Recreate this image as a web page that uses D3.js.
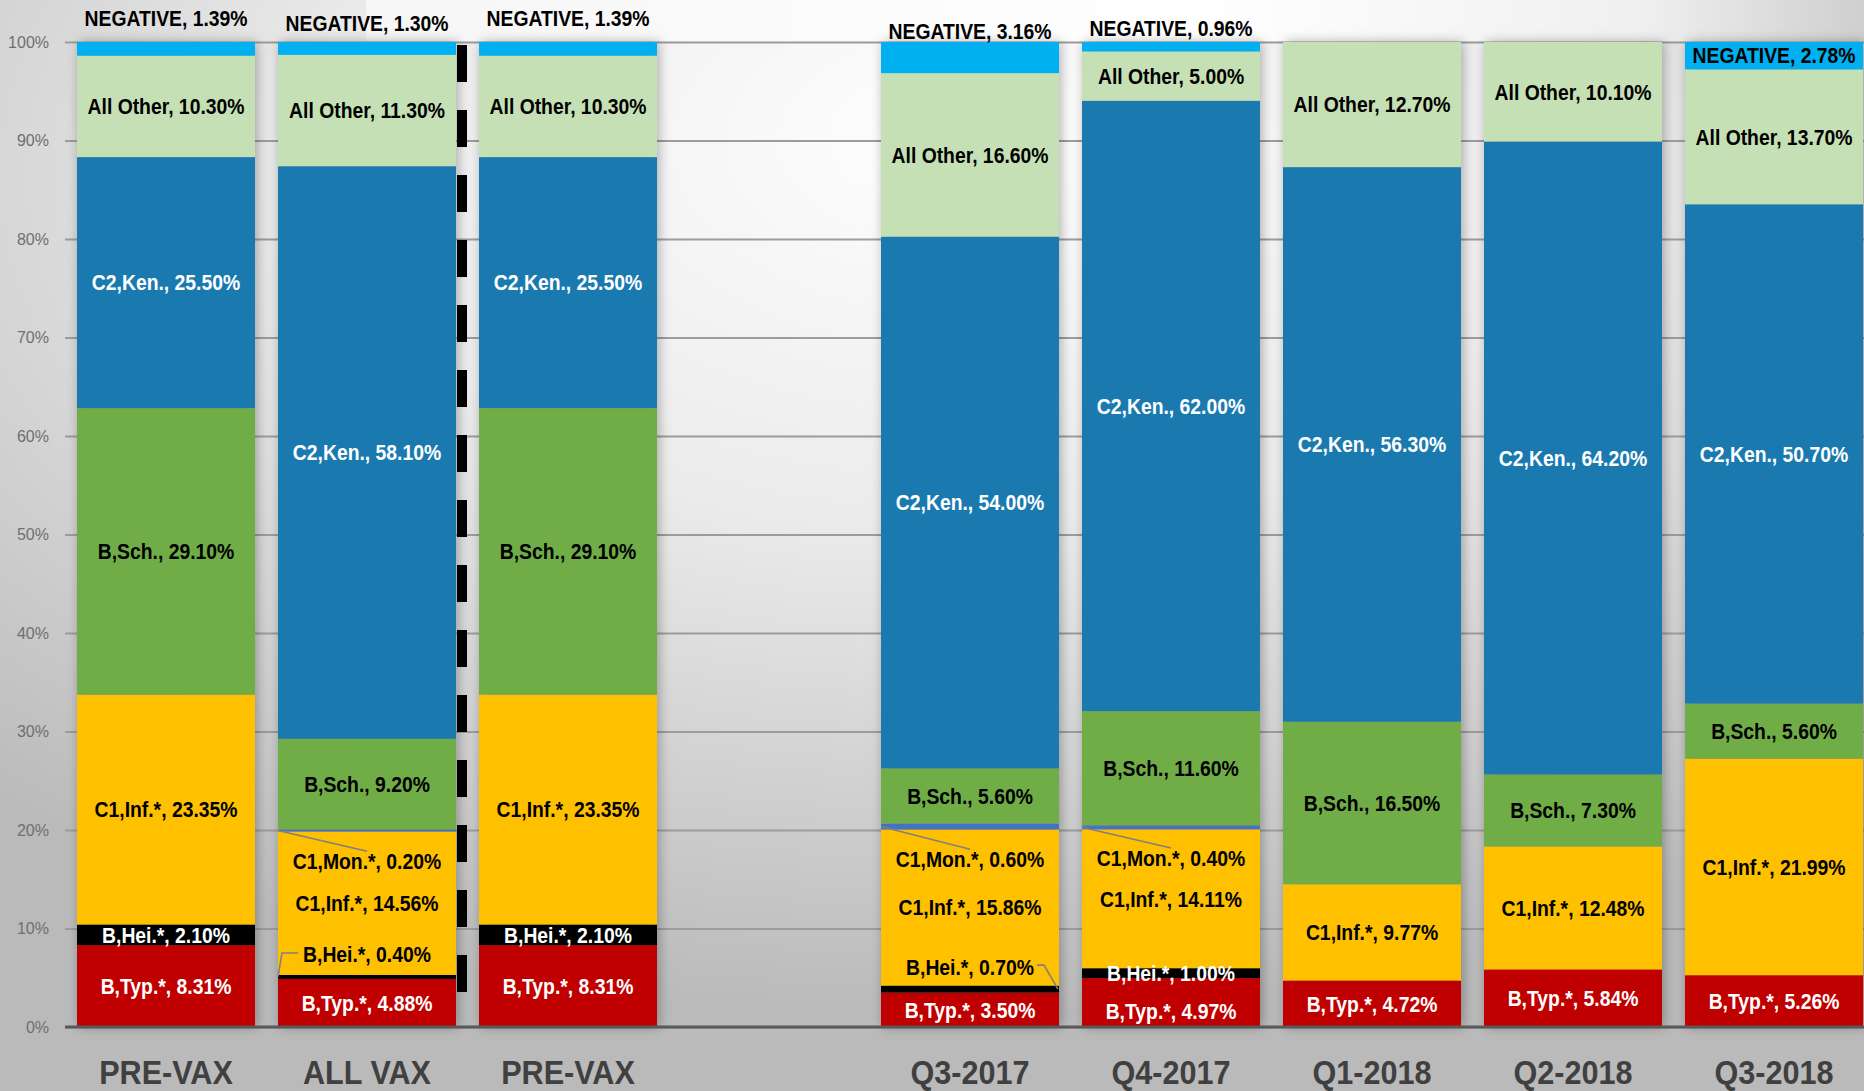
<!DOCTYPE html>
<html>
<head>
<meta charset="utf-8">
<script src="https://cdn.jsdelivr.net/npm/d3@7"></script>
<style>
  html, body { margin: 0; padding: 0; overflow: hidden; }
  svg { display: block; }
</style>
</head>
<body>
<svg id="chart" width="1864" height="1091"></svg>
<script>
// ---------------- DATA ----------------
const categories = ["PRE-VAX", "ALL VAX", "PRE-VAX", "", "Q3-2017", "Q4-2017", "Q1-2018", "Q2-2018", "Q3-2018"];
const seriesNames = ["B,Typ.*", "B,Hei.*", "C1,Inf.*", "C1,Mon.*", "B,Sch.", "C2,Ken.", "All Other", "NEGATIVE"];
const bTyp     = [8.31, 4.88, 8.31, null, 3.50, 4.97, 4.72, 5.84, 5.26];
const bHei     = [2.10, 0.40, 2.10, null, 0.70, 1.00, 0, 0, 0];
const c1Inf    = [23.35, 14.56, 23.35, null, 15.86, 14.11, 9.77, 12.48, 21.99];
const c1Mon    = [0, 0.20, 0, null, 0.60, 0.40, 0, 0, 0];
const bSch     = [29.10, 9.20, 29.10, null, 5.60, 11.60, 16.50, 7.30, 5.60];
const c2Ken    = [25.50, 58.10, 25.50, null, 54.00, 62.00, 56.30, 64.20, 50.70];
const allOther = [10.30, 11.30, 10.30, null, 16.60, 5.00, 12.70, 10.10, 13.70];
const negative = [1.39, 1.30, 1.39, null, 3.16, 0.96, 0, 0, 2.78];
const yTicks = [0, 10, 20, 30, 40, 50, 60, 70, 80, 90, 100];

const seriesValues = [bTyp, bHei, c1Inf, c1Mon, bSch, c2Ken, allOther, negative];

// ---------------- STYLE / LAYOUT ----------------
const colors = ["#C00000", "#000000", "#FFC000", "#4472C4", "#70AD47", "#1A7AB0", "#C5E0B4", "#00B0F0"];
const labelColors = ["#ffffff", "#ffffff", "#000000", "#000000", "#000000", "#ffffff", "#000000", "#000000"];
const W = 1864, H = 1091;
const FONT = "'Liberation Sans', Arial, sans-serif";
const NARROW = 0.9;

// manual label adjustments (like dragged Excel data labels): key = "col|series"
const labelAbsY = { "0|7": 18, "1|7": 23, "2|7": 18, "4|7": 31, "5|7": 28 };
const labelDy = { "1|3": 31, "4|3": 33, "5|3": 31, "1|1": -23, "4|1": -22, "5|0": 9 };
const leaderCols = { "1|3": "left", "4|3": "left", "5|3": "left", "1|1": "leftElbow", "4|1": "rightElbow" };

const svg = d3.select("#chart");
const defs = svg.append("defs");

// background gradient
const bg = defs.append("radialGradient").attr("id", "bg")
  .attr("cx", "50%").attr("cy", "18%").attr("r", "75%").attr("fx", "52%").attr("fy", "12%");
bg.append("stop").attr("offset", "0%").attr("stop-color", "#ffffff");
bg.append("stop").attr("offset", "45%").attr("stop-color", "#ebebeb");
bg.append("stop").attr("offset", "100%").attr("stop-color", "#bababa");
svg.append("rect").attr("width", W).attr("height", H).attr("fill", "url(#bg)");

const topBand = defs.append("linearGradient").attr("id", "topband").attr("x1", "0").attr("x2", "1");
topBand.append("stop").attr("offset", "0%").attr("stop-color", "#f6f6f6");
topBand.append("stop").attr("offset", "55%").attr("stop-color", "#ffffff");
topBand.append("stop").attr("offset", "85%").attr("stop-color", "#f0f0f0");
topBand.append("stop").attr("offset", "100%").attr("stop-color", "#cfcfcf");
svg.append("rect").attr("x", 366).attr("y", 0).attr("width", W - 366).attr("height", 41).attr("fill", "url(#topband)");

// shadow filter
const f = defs.append("filter").attr("id", "shadow").attr("x", "-20%").attr("y", "-5%").attr("width", "140%").attr("height", "110%");
f.append("feGaussianBlur").attr("in", "SourceAlpha").attr("stdDeviation", 6);
f.append("feOffset").attr("dx", 2).attr("dy", 0).attr("result", "b");
f.append("feFlood").attr("flood-color", "#000").attr("flood-opacity", 0.3);
f.append("feComposite").attr("in2", "b").attr("operator", "in");

// ---------------- SCALES ----------------
const step = 201;
const x = d3.scaleBand()
  .domain(d3.range(categories.length))
  .range([65.5, 65.5 + step * categories.length])
  .paddingInner(23 / step)
  .paddingOuter(11.5 / step);
const bw = x.bandwidth();
const y = d3.scaleLinear().domain([0, 100]).range([1027, 42]);

// ---------------- GRID / AXIS ----------------
const yAxis = d3.axisLeft(y)
  .tickValues(yTicks)
  .tickFormat(d => d + "%")
  .tickSizeInner(-(W - 65))
  .tickSizeOuter(0)
  .tickPadding(16);
const gAxis = svg.append("g").attr("transform", "translate(65,0)").call(yAxis);
gAxis.select(".domain").remove();
gAxis.selectAll(".tick line").attr("stroke", "#9c9c9c").attr("stroke-width", 2);
gAxis.selectAll(".tick text")
  .attr("fill", "#6f6f6f")
  .style("font-family", FONT)
  .style("font-size", "16px");

// ---------------- STACK ----------------
const rows = categories.map((c, i) => {
  const row = { idx: i, empty: seriesValues[0][i] === null };
  const total = row.empty ? 1 : d3.sum(seriesValues, s => s[i]);
  seriesValues.forEach((s, k) => { row[k] = row.empty ? 0 : (s[i] / total) * 100; });
  return row;
});
const stack = d3.stack().keys(d3.range(seriesNames.length));
const stacked = stack(rows);

// shadows
svg.append("g").selectAll("rect")
  .data(rows.filter(r => !r.empty))
  .join("rect")
  .attr("x", d => x(d.idx)).attr("width", bw)
  .attr("y", y(100)).attr("height", y(0) - y(100))
  .attr("fill", "#000")
  .attr("filter", "url(#shadow)");

// bars
const gBars = svg.append("g");
stacked.forEach((layer, k) => {
  gBars.append("g").attr("fill", colors[k])
    .selectAll("rect")
    .data(layer.filter(d => !d.data.empty && d[1] - d[0] > 0))
    .join("rect")
    .attr("x", d => x(d.data.idx))
    .attr("width", bw)
    .attr("y", d => y(d[1]))
    .attr("height", d => y(d[0]) - y(d[1]));
});

// baseline
svg.append("line")
  .attr("x1", 65).attr("x2", W)
  .attr("y1", y(0)).attr("y2", y(0))
  .attr("stroke", "#595959").attr("stroke-width", 3);

// dashed separator
svg.append("line")
  .attr("x1", x(1) + bw + 6).attr("x2", x(1) + bw + 6)
  .attr("y1", 45).attr("y2", 992)
  .attr("stroke", "#000").attr("stroke-width", 10)
  .attr("stroke-dasharray", "37,28");

// ---------------- LABELS ----------------
const gLeader = svg.append("g").attr("fill", "none").attr("stroke", "#808080").attr("stroke-width", 1.6);
const gLabels = svg.append("g")
  .style("font-family", FONT)
  .style("font-weight", "bold")
  .style("font-size", "21.5px")
  .attr("text-anchor", "middle");

stacked.forEach((layer, k) => {
  layer.forEach(d => {
    const i = d.data.idx;
    if (d.data.empty) return;
    const raw = seriesValues[k][i];
    if (!raw || raw <= 0) return;
    const key = i + "|" + k;
    const cx = x(i) + bw / 2;
    const segMid = y((d[0] + d[1]) / 2);
    let ly = segMid + (labelDy[key] || 0);
    if (labelAbsY[key] !== undefined) ly = labelAbsY[key];
    let fill = labelColors[k];
    if (leaderCols[key]) fill = "#000";
    const g = gLabels.append("g").attr("transform", `translate(${cx},${ly}) scale(${NARROW},1)`);
    const t = g.append("text")
      .attr("x", 0).attr("y", 0)
      .attr("dy", "0.36em")
      .attr("fill", fill)
      .text(`${seriesNames[k]}, ${raw.toFixed(2)}%`);
    const lead = leaderCols[key];
    if (lead) {
      const bb = t.node().getBBox();
      const halfW = bb.width * NARROW / 2;
      const top = ly + bb.y;
      let pts;
      if (lead === "left") {
        pts = [[x(i), segMid], [cx, top + 2]];
      } else if (lead === "leftElbow") {
        pts = [[x(i), segMid], [x(i) + 4, ly - 1], [cx - halfW - 5, ly - 1]];
      } else {
        pts = [[cx + halfW + 3, ly - 2], [cx + halfW + 10, ly - 2], [x(i) + bw - 1, segMid]];
      }
      gLeader.append("path").attr("d", d3.line()(pts));
    }
  });
});

// ---------------- X CATEGORY LABELS ----------------
const gX = svg.append("g")
  .style("font-family", FONT)
  .style("font-weight", "bold")
  .style("font-size", "34px")
  .attr("text-anchor", "middle")
  .attr("fill", "#404040");
gX.selectAll("g")
  .data(categories.map((c, i) => ({ c, i })).filter(d => d.c))
  .join("g")
  .attr("transform", d => `translate(${x(d.i) + bw / 2},1084) scale(0.9,1)`)
  .append("text")
  .attr("x", 0).attr("y", 0)
  .text(d => d.c);
</script>
</body>
</html>
